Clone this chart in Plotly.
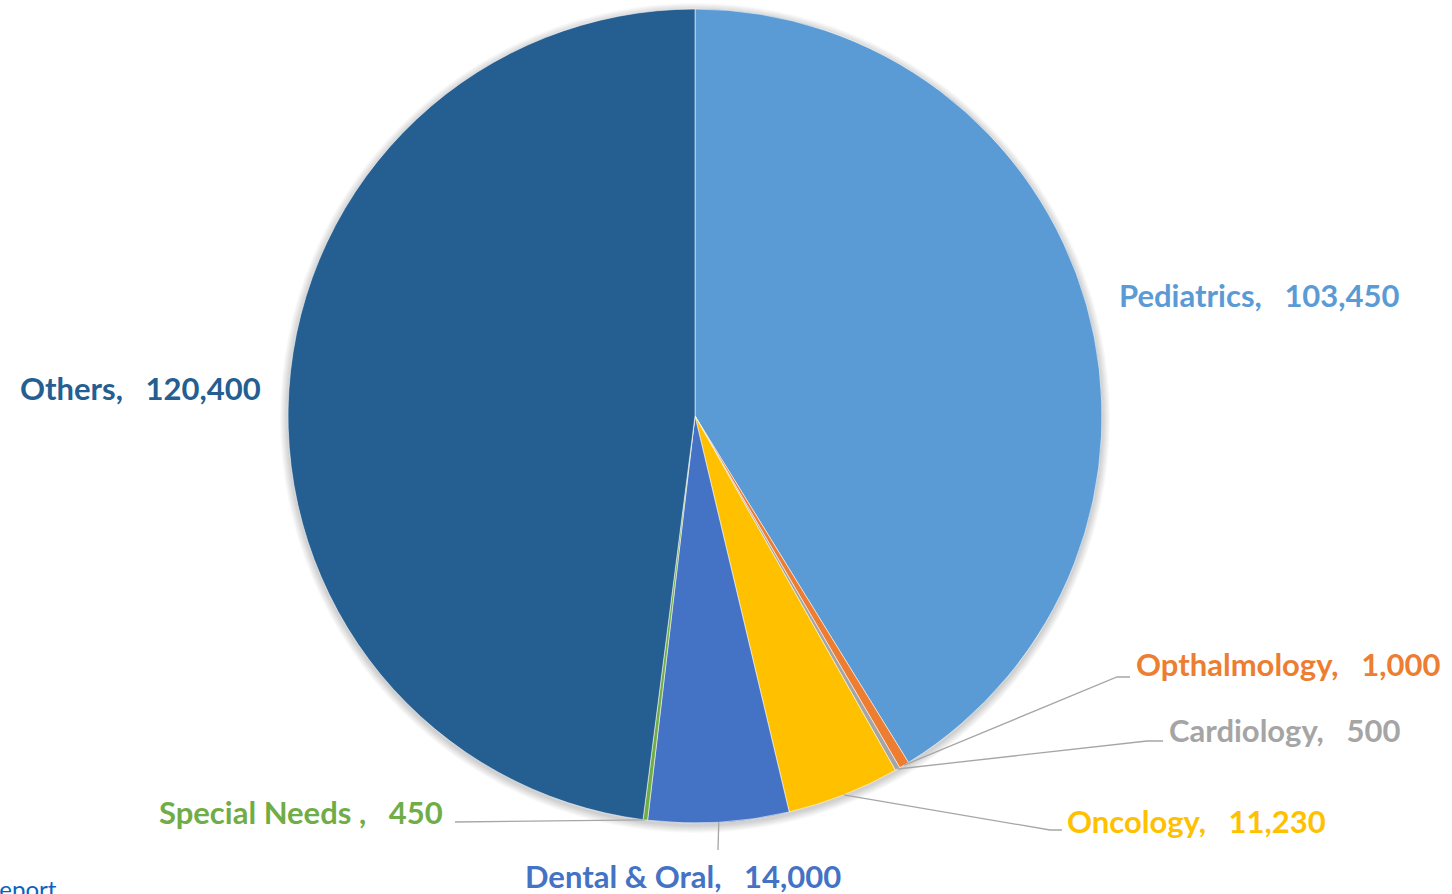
import math
import plotly.graph_objects as go

# Patient counts by specialty, in clockwise order from 12 o'clock
categories = ["Pediatrics", "Opthalmology", "Cardiology", "Oncology",
              "Dental & Oral", "Special Needs ", "Others"]
values = [103450, 1000, 500, 11230, 14000, 450, 120400]
colors = ["#5B9BD5", "#ED7D31", "#A5A5A5", "#FFC000",
          "#4472C4", "#70AD47", "#255E91"]

W, H = 1452, 894
CX, CY, R = 695, 416, 407          # pie centre and radius in pixels

# label placement: text-left x, text-centre y, leader-line bend points
label_pos = {
    "Pediatrics":     dict(x=1117, y=295, leader=None),
    "Opthalmology":   dict(x=1134, y=664, leader=[(1117, 677), (1130, 677)]),
    "Cardiology":     dict(x=1167, y=730, leader=[(1147, 741), (1163, 741)]),
    "Oncology":       dict(x=1065, y=821, leader=[(1050, 830), (1062, 830)]),
    "Dental & Oral":  dict(x=523,  y=876, leader=[(718, 850)]),
    "Special Needs ": dict(x=157,  y=812, leader=[(455, 822)]),
    "Others":         dict(x=18,   y=388, leader=None),
}


def px(x):
    return x / W


def py(y):
    return 1 - y / H


fig = go.Figure(go.Pie(
    labels=categories,
    values=values,
    sort=False,
    direction="clockwise",
    rotation=0,
    marker=dict(colors=colors, line=dict(color="rgba(255,255,255,0.55)", width=1)),
    textinfo="none",
    hoverinfo="label+value",
    domain=dict(x=[px(CX - R), px(CX + R)], y=[py(CY + R), py(CY - R)]),
    showlegend=False,
))

shapes = []
# soft drop shadow behind the pie
for k in range(1, 9):
    rr = R + k
    shapes.append(dict(type="circle", xref="paper", yref="paper", layer="below",
                       x0=px(CX - rr), x1=px(CX + rr),
                       y0=py(CY + 2 + rr), y1=py(CY + 2 - rr),
                       line=dict(width=0), fillcolor="rgba(0,0,0,0.022)"))

annotations = []
total = sum(values)
cum = 0
for name, v, c in zip(categories, values, colors):
    mid = (cum + v / 2) / total * 2 * math.pi
    cum += v
    pos = label_pos[name]
    # leader line from the slice's mid-point on the rim to the label
    if pos["leader"]:
        pts = [(CX + R * math.sin(mid), CY - R * math.cos(mid))] + pos["leader"]
        path = "M " + " L ".join(f"{px(a):.5f},{py(b):.5f}" for a, b in pts)
        shapes.append(dict(type="path", xref="paper", yref="paper", path=path,
                           line=dict(color="#A6A6A6", width=1.3)))
    annotations.append(dict(
        text=f"<b>{name},\u00a0\u00a0 {v:,}</b>",
        x=px(pos["x"]), y=py(pos["y"]), xref="paper", yref="paper",
        xanchor="left", yanchor="middle", showarrow=False,
        font=dict(family="Lato", size=31, color=c),
    ))

# page link text running off the bottom-left corner
annotations.append(dict(
    text="Report", x=px(59), y=py(905), xref="paper", yref="paper",
    xanchor="right", yanchor="bottom", showarrow=False,
    font=dict(family="Lato", size=24, color="#0563C1"),
))

fig.update_layout(
    width=W, height=H,
    margin=dict(l=0, r=0, t=0, b=0),
    paper_bgcolor="white", plot_bgcolor="white",
    shapes=shapes, annotations=annotations,
)

fig.write_html("out.html")
